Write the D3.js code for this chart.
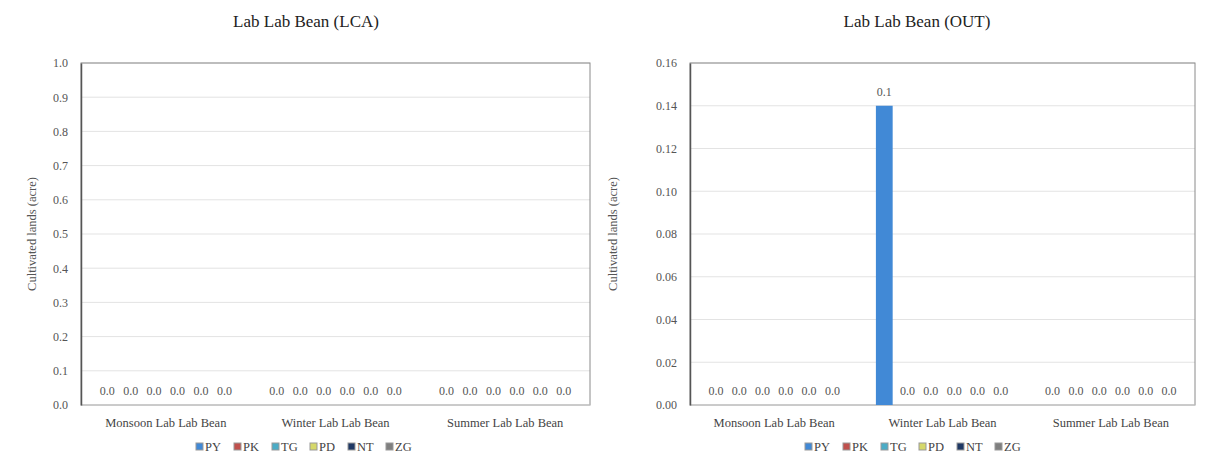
<!DOCTYPE html>
<html><head><meta charset="utf-8">
<script src="https://cdn.jsdelivr.net/npm/d3@7/dist/d3.min.js"></script>
<style>body{margin:0;background:#fff}svg{display:block}</style>
</head><body><svg id="c" width="1205" height="470"></svg>
<script>
const categories = ["Monsoon Lab Lab Bean", "Winter Lab Lab Bean", "Summer Lab Lab Bean"];
const seriesNames = ["PY", "PK", "TG", "PD", "NT", "ZG"];
const seriesColors = ["#4189d6", "#c0504d", "#4bacc6", "#d6d86a", "#1f3864", "#7f7f7f"];
// values[series][category]
const lcaValues = [
  [0, 0, 0], [0, 0, 0], [0, 0, 0], [0, 0, 0], [0, 0, 0], [0, 0, 0]
];
const outValues = [
  [0, 0.14, 0], [0, 0, 0], [0, 0, 0], [0, 0, 0], [0, 0, 0], [0, 0, 0]
];
const lcaTicks = [0, 0.1, 0.2, 0.3, 0.4, 0.5, 0.6, 0.7, 0.8, 0.9, 1.0];
const outTicks = [0, 0.02, 0.04, 0.06, 0.08, 0.10, 0.12, 0.14, 0.16];

const svg = d3.select("#c");
const font = "'Liberation Serif','Times New Roman',serif";

function panel(cfg) {
  const g = svg.append("g");
  const {left, right, top, bottom} = cfg;
  const y = d3.scaleLinear().domain([0, cfg.max]).range([bottom, top]);
  const x0 = d3.scaleBand().domain(categories).range([left, right]).paddingInner(0.17).paddingOuter(0.085);
  const x1 = d3.scaleBand().domain(seriesNames).range([0, x0.bandwidth()]).paddingInner(0.28).paddingOuter(0.14);

  g.append("text").attr("x", cfg.titleX).attr("y", 27).attr("text-anchor", "middle")
    .attr("font-family", font).attr("font-size", 17).attr("fill", "#222").text(cfg.title);

  g.append("g").selectAll("line").data(cfg.ticks.slice(1)).join("line")
    .attr("x1", left).attr("x2", right).attr("y1", d => y(d)).attr("y2", d => y(d))
    .attr("stroke", "#e3e3e3").attr("stroke-width", 1);

  g.append("rect").attr("x", left).attr("y", top).attr("width", right - left).attr("height", bottom - top)
    .attr("fill", "none").attr("stroke", "#8a8a8a").attr("stroke-width", 1);
  g.append("line").attr("x1", left).attr("x2", right).attr("y1", bottom).attr("y2", bottom)
    .attr("stroke", "#d0d0d0");

  const ya = g.append("g").attr("transform", `translate(${left},0)`)
    .call(d3.axisLeft(y).tickValues(cfg.ticks).tickFormat(d3.format(cfg.fmt)).tickSize(0).tickPadding(cfg.tickPad));
  ya.select(".domain").attr("stroke", "#555").attr("stroke-width", 1.5);
  ya.selectAll("text").attr("font-family", font).attr("font-size", 12).attr("fill", "#555");

  const xa = g.append("g").attr("transform", `translate(0,${bottom})`)
    .call(d3.axisBottom(x0).tickSize(0).tickPadding(13));
  xa.select(".domain").remove();
  xa.selectAll("text").attr("font-family", font).attr("font-size", 12.5).attr("fill", "#444");

  g.append("text").attr("transform", `translate(${cfg.ylabX},${(top + bottom) / 2}) rotate(-90)`)
    .attr("text-anchor", "middle").attr("font-family", font).attr("font-size", 12.5).attr("fill", "#555")
    .text("Cultivated lands (acre)");

  const flat = [];
  cfg.values.forEach((vals, si) => vals.forEach((v, ci) => flat.push({s: seriesNames[si], si, c: categories[ci], v})));
  g.append("g").selectAll("rect").data(flat).join("rect")
    .attr("x", d => x0(d.c) + x1(d.s)).attr("width", x1.bandwidth())
    .attr("y", d => y(d.v)).attr("height", d => bottom - y(d.v))
    .attr("fill", d => seriesColors[d.si]);
  g.append("g").selectAll("text").data(flat).join("text")
    .attr("x", d => x0(d.c) + x1(d.s) + x1.bandwidth() / 2).attr("y", d => y(d.v) - 10)
    .attr("text-anchor", "middle").attr("font-family", font).attr("font-size", 12).attr("fill", "#555")
    .text(d => d3.format(".1f")(d.v));

  const lg = g.append("g").attr("transform", `translate(${cfg.legendX},451)`);
  const itemW = 38;
  seriesNames.forEach((s, i) => {
    const it = lg.append("g").attr("transform", `translate(${i * itemW},0)`);
    it.append("rect").attr("x", 0).attr("y", -8).attr("width", 7).attr("height", 7)
      .attr("fill", seriesColors[i]).attr("stroke", "#999").attr("stroke-width", 1);
    it.append("text").attr("x", 9).attr("y", 0).attr("font-family", font).attr("font-size", 12.5)
      .attr("fill", "#444").text(s);
  });
}

panel({title: "Lab Lab Bean (LCA)", titleX: 306, left: 81, right: 590, top: 63, bottom: 405,
  max: 1.0, ticks: lcaTicks, fmt: ".1f", values: lcaValues, ylabX: 36, tickPad: 13, legendX: 196});
panel({title: "Lab Lab Bean (OUT)", titleX: 917, left: 690, right: 1195, top: 63, bottom: 405,
  max: 0.16, ticks: outTicks, fmt: ".2f", values: outValues, ylabX: 617, tickPad: 13, legendX: 805});
</script></body></html>
